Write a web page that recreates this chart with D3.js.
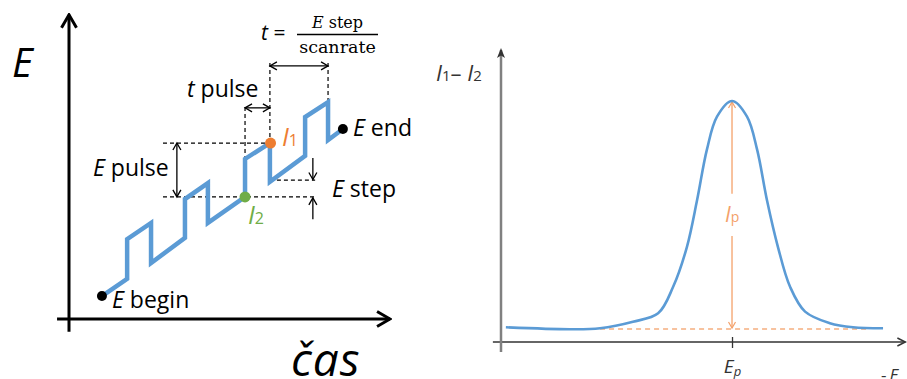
<!DOCTYPE html>
<html><head><meta charset="utf-8">
<script src="https://cdn.jsdelivr.net/npm/d3@7"></script>
<style>body{margin:0;background:#fff}svg{display:block}</style>
</head><body>
<svg id="c" width="907" height="379"></svg>
<script>
// ---------- Left panel data: pulse staircase (time units, potential units) ----------
const stairTime = [10.2, 18.0, 18.0, 25.4, 25.4, 35.9, 35.9, 43.0, 43.0, 54.5, 54.5, 62.2, 62.2, 73.1, 73.1, 80.2, 80.2, 84.8];
const stairE    = [ 7.5, 13.1, 26.1, 31.4, 18.3, 26.5, 39.2, 44.4, 31.4, 39.9, 52.3, 57.5, 44.8, 53.3, 66.0, 70.9, 58.5, 62.1];
const pointNames = ["E begin", "I2", "I1", "E end"];
const pointTime  = [10.2, 54.5, 62.4, 84.8];
const pointE     = [ 7.5, 39.9, 57.5, 62.1];
const pointColor = ["#000", "#70ad47", "#ed7d31", "#000"];

// ---------- Right panel data: differential current vs potential ----------
const potE  = [1.2, 17.0, 24.4, 32.5, 38.7, 42.4, 45.8, 48.3, 50.7, 53.2, 56.9, 60.6, 63.1, 65.5, 68.2, 71.2, 74.9, 81.0, 86.7, 94.1];
const dI    = [6.1,  5.3,  5.7,  8.4, 11.9, 22.9, 39.5, 58.9, 79.7, 93.5, 100, 93.5, 79.7, 58.9, 39.5, 22.9, 12.6,  7.8,  6.1,  5.7];
const peakE = 56.9, peakI = 100, baseI = 5.4;
const baseFrom = 24.4, baseTo = 90.1;
const tickValues = [56.9];
const tickLabels = ["E"];

const svg = d3.select("#c");
const BLUE = "#5b9bd5", ORANGE = "#f4a16a";

// ---- markers ----
const defs = svg.append("defs");
function chevron(id, len, half, color, width) {
  defs.append("marker").attr("id", id)
    .attr("markerUnits", "userSpaceOnUse")
    .attr("viewBox", `${-len-2} ${-half-2} ${len+4} ${2*half+4}`)
    .attr("markerWidth", len+4).attr("markerHeight", 2*half+4)
    .attr("refX", 0).attr("refY", 0)
    .attr("orient", "auto-start-reverse")
    .append("path").attr("d", `M${-len},${-half}L0,0L${-len},${half}`)
    .attr("fill", "none").attr("stroke", color).attr("stroke-width", width)
    .attr("stroke-linejoin", "miter");
}
chevron("bigArrow", 13, 7.5, "#000", 3);
chevron("smallArrow", 7, 4, "#000", 1.3);
chevron("orangeArrow", 6, 3.5, ORANGE, 1.2);
chevron("greyArrow", 8, 4, "#333", 1.5);

// ================= LEFT PANEL =================
const xL = d3.scaleLinear().domain([0, 100]).range([69, 392]);
const yL = d3.scaleLinear().domain([0, 100]).range([319, 13]);
const L = svg.append("g");

// axes
L.append("line").attr("x1", xL(-3.7)).attr("x2", xL(99.4)).attr("y1", yL(0)).attr("y2", yL(0))
  .attr("stroke", "#000").attr("stroke-width", 3).attr("marker-end", "url(#bigArrow)");
L.append("line").attr("x1", xL(0)).attr("x2", xL(0)).attr("y1", yL(-4.2)).attr("y2", yL(99.4))
  .attr("stroke", "#000").attr("stroke-width", 3).attr("marker-end", "url(#bigArrow)");

// dashed guides
const dash = (t1, e1, t2, e2) => L.append("line")
  .attr("x1", xL(t1)).attr("y1", yL(e1)).attr("x2", xL(t2)).attr("y2", yL(e2))
  .attr("stroke", "#000").attr("stroke-width", 1.2).attr("stroke-dasharray", "4,3");
dash(29.1, 57.5, 62.2, 57.5);
dash(29.1, 39.9, 76.2, 39.9);
dash(62.2, 45.4, 76.2, 45.4);
dash(54.5, 69.3, 54.5, 52.3);
dash(62.2, 83.7, 62.2, 57.5);
dash(80.2, 83.7, 80.2, 71.6);

// double arrows
const arr = (t1, e1, t2, e2, both) => L.append("line")
  .attr("x1", xL(t1)).attr("y1", yL(e1)).attr("x2", xL(t2)).attr("y2", yL(e2))
  .attr("stroke", "#000").attr("stroke-width", 1.3)
  .attr("marker-end", "url(#smallArrow)")
  .attr("marker-start", both ? "url(#smallArrow)" : null);
arr(54.5, 69.0, 62.2, 69.0, true);
arr(62.2, 82.7, 80.2, 82.7, true);
arr(33.4, 57.5, 33.4, 39.9, true);
arr(75.5, 52.6, 75.5, 45.6, false);
arr(75.5, 32.6, 75.5, 39.6, false);

// staircase
const stairPts = stairTime.map((t, i) => [t, stairE[i]]);
L.append("path").datum(stairPts)
  .attr("d", d3.line().x(d => xL(d[0])).y(d => yL(d[1])))
  .attr("fill", "none").attr("stroke", BLUE).attr("stroke-width", 4.5)
  .attr("stroke-linejoin", "miter");

// points
L.selectAll("circle.pt").data(pointNames).join("circle").attr("class", "pt")
  .attr("cx", (d, i) => xL(pointTime[i])).attr("cy", (d, i) => yL(pointE[i]))
  .attr("r", (d, i) => (i === 1 || i === 2) ? 5.5 : 5)
  .attr("fill", (d, i) => pointColor[i]);

// texts
const FONT = "'Open Sans', Lato, sans-serif";
function label(x, y, parts, size, color, parent) {
  const t = (parent || svg).append("text").attr("x", x).attr("y", y)
    .attr("font-family", FONT).style("font-size", size + "px").attr("fill", color || "#000");
  parts.forEach(p => {
    const s = t.append("tspan").text(p.t);
    if (p.i) s.attr("font-style", "italic");
    if (p.s) s.style("font-size", p.s + "px");
    if (p.dx) s.attr("dx", p.dx);
  });
  return t;
}
label(12, 77, [{t: "E", i: 1}], 40);
label(291, 376, [{t: "čas", i: 1}], 46).attr("letter-spacing", 1);
label(93, 176, [{t: "E", i: 1}, {t: " pulse"}], 23);
label(187, 97, [{t: "t", i: 1}, {t: " pulse"}], 23);
label(332, 197, [{t: "E", i: 1}, {t: " step"}], 23);
label(353, 136, [{t: "E", i: 1}, {t: " end"}], 23);
label(112, 308, [{t: "E", i: 1}, {t: " begin"}], 23);
label(282, 146, [{t: "I", i: 1}, {t: "1", s: 16}], 25, "#ed7d31");
label(248, 224, [{t: "I", i: 1}, {t: "2", s: 16}], 25, "#70ad47");
// formula
label(261, 40, [{t: "t", i: 1}, {t: " ="}], 21);
svg.append("line").attr("x1", 297).attr("x2", 378).attr("y1", 34.5).attr("y2", 34.5)
  .attr("stroke", "#000").attr("stroke-width", 1.3);
svg.append("text").attr("x", 337.5).attr("y", 28).attr("text-anchor", "middle")
  .attr("font-family", "'DejaVu Serif', serif").style("font-size", "16px")
  .call(t => { t.append("tspan").attr("font-style", "italic").text("E"); t.append("tspan").text(" step"); });
svg.append("text").attr("x", 337.5).attr("y", 53).attr("text-anchor", "middle")
  .attr("font-family", "'DejaVu Serif', serif").style("font-size", "17.5px").text("scanrate");

// ================= RIGHT PANEL =================
const xR = d3.scaleLinear().domain([0, 100]).range([501, 907]);
const yR = d3.scaleLinear().domain([0, 100]).range([342, 101]);
const R = svg.append("g");

// x axis with Ep tick
const axis = d3.axisBottom(xR).tickValues(tickValues).tickSize(6).tickFormat((d, i) => tickLabels[i]);
const ax = R.append("g").attr("transform", `translate(0,${yR(0)})`).call(axis);
ax.select(".domain").remove();
ax.selectAll(".tick line").attr("y1", -5).attr("y2", 6).attr("stroke", "#333").attr("stroke-width", 1.3);
ax.selectAll(".tick text").attr("y", 31).attr("dy", null).attr("x", 0)
  .attr("font-family", FONT).style("font-size", "19px").attr("font-style", "italic").attr("fill", "#333")
  .each(function() { d3.select(this).append("tspan").style("font-size", "13px").attr("dy", 3).text("p"); });
R.append("line").attr("x1", xR(-2.0)).attr("x2", xR(99.6)).attr("y1", yR(0)).attr("y2", yR(0))
  .attr("stroke", "#333").attr("stroke-width", 1.4).attr("marker-end", "url(#greyArrow)");
R.append("line").attr("x1", xR(0)).attr("x2", xR(0)).attr("y1", yR(-4.15)).attr("y2", yR(121.2))
  .attr("stroke", "#808080").attr("stroke-width", 2.5);
R.append("path").attr("d", `M${xR(0)},${yR(121.2)-2}l-4,10l4,-2.5l4,2.5z`).attr("fill", "#333");

// baseline dashed
R.append("line").attr("x1", xR(baseFrom)).attr("x2", xR(baseTo)).attr("y1", yR(baseI)).attr("y2", yR(baseI))
  .attr("stroke", ORANGE).attr("stroke-width", 1.5).attr("stroke-dasharray", "5,4").attr("opacity", 0.85);

// peak arrow with gap for label
R.append("line").attr("x1", xR(peakE)).attr("x2", xR(peakE)).attr("y1", yR(61.5)).attr("y2", yR(peakI) + 1)
  .attr("stroke", ORANGE).attr("stroke-width", 1.3).attr("marker-end", "url(#orangeArrow)");
R.append("line").attr("x1", xR(peakE)).attr("x2", xR(peakE)).attr("y1", yR(44)).attr("y2", yR(baseI) - 1)
  .attr("stroke", ORANGE).attr("stroke-width", 1.3).attr("marker-end", "url(#orangeArrow)");
label(xR(peakE) - 7, 222, [{t: "I", i: 1}, {t: "p", s: 14}], 21, ORANGE);

// curve
const curvePts = potE.map((e, i) => [e, dI[i]]);
R.append("path").datum(curvePts)
  .attr("d", d3.line().curve(d3.curveCatmullRom.alpha(0.5)).x(d => xR(d[0])).y(d => yR(d[1])))
  .attr("fill", "none").attr("stroke", BLUE).attr("stroke-width", 2.6);

// labels
label(436, 81, [{t: "I", i: 1}, {t: "1", s: 15}, {t: "– "}, {t: "I", i: 1}, {t: "2", s: 15}], 22, "#333");
label(881, 381, [{t: "-"}, {t: "E", i: 1, dx: 3}], 17, "#333");
</script>
</body></html>
